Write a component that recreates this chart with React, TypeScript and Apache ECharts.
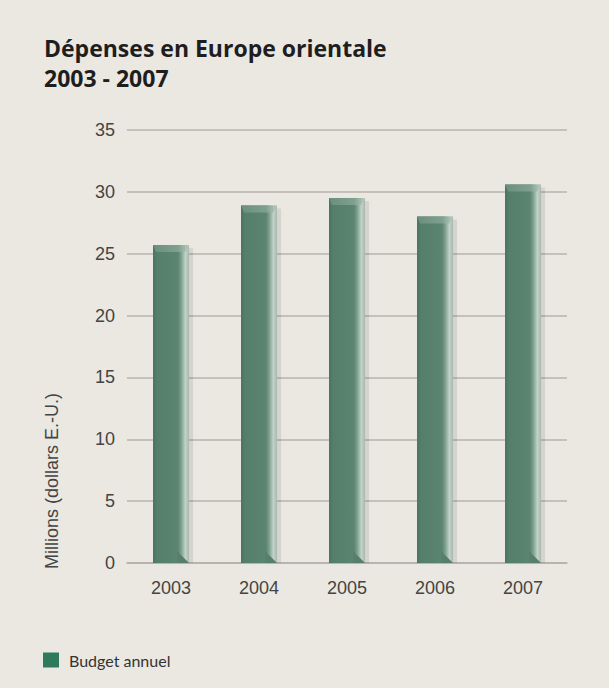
import React, { useEffect, useRef } from "react";
import * as echarts from "echarts";

const categories = ["2003", "2004", "2005", "2006", "2007"];
const budget = [25.7, 28.9, 29.5, 28.0, 30.6];
const yTicks = [0, 5, 10, 15, 20, 25, 30, 35];
const titleLines = ["Dépenses en Europe orientale", "2003 - 2007"];
const seriesName = "Budget annuel";
const yAxisName = "Millions (dollars E.-U.)";

export default function App() {
  const ref = useRef<HTMLDivElement>(null);
  useEffect(() => {
    if (!ref.current) return;
    const chart = echarts.init(ref.current, null, { renderer: "svg" });
    const barGrad = new echarts.graphic.LinearGradient(0, 0, 1, 0, [
      { offset: 0, color: "#4a755f" },
      { offset: 0.12, color: "#567f6b" },
      { offset: 0.7, color: "#5c8571" },
      { offset: 0.8, color: "#86a695" },
      { offset: 0.9, color: "#c3d2c9" },
      { offset: 1, color: "#a6b9ae" },
    ]);
    const topGrad = new echarts.graphic.LinearGradient(0, 0, 1, 0, [
      { offset: 0, color: "#6b8f7d" },
      { offset: 0.7, color: "#7fa08f" },
      { offset: 1, color: "#b9cbc0" },
    ]);
    const renderItem = (params: any, api: any) => {
      const top = api.coord([api.value(0), api.value(1)]);
      const base = api.coord([api.value(0), 0]);
      const bw = 36;
      const l = top[0] - bw / 2;
      const t = top[1];
      const h = base[1] - t;
      return {
        type: "group",
        children: [
          {
            type: "rect",
            shape: { x: l + 4, y: t + 3, width: bw, height: h - 3 },
            style: { fill: "rgba(0,0,0,0.08)", shadowBlur: 6, shadowColor: "rgba(0,0,0,0.2)" },
          },
          {
            type: "rect",
            shape: { x: l, y: t, width: bw, height: h },
            style: { fill: barGrad },
          },
          {
            type: "polygon",
            shape: {
              points: [
                [l, t],
                [l + bw, t],
                [l + bw - 4, t + 7],
                [l + 3, t + 7],
              ],
            },
            style: { fill: topGrad },
          },
          {
            type: "polygon",
            shape: {
              points: [
                [l + bw - 12, base[1] - 12],
                [l + bw, base[1]],
                [l + bw - 12, base[1]],
              ],
            },
            style: { fill: "#587f6c" },
          },
        ],
      };
    };
    chart.setOption({
      animation: false,
      backgroundColor: "transparent",
      title: {
        text: titleLines.join("\n"),
        left: 44,
        top: 33,
        padding: 0,
        textStyle: {
          fontFamily: "Open Sans",
          fontWeight: "bold",
          fontSize: 23,
          lineHeight: 30,
          color: "#1e1e1e",
        },
      },
      grid: { left: 127, right: 42, top: 130, bottom: 125 },
      legend: {
        left: 43,
        top: 652,
        padding: 0,
        itemWidth: 16,
        itemHeight: 15,
        icon: "rect",
        textStyle: {
          fontFamily: "Lato",
          fontSize: 16,
          color: "#333",
          padding: [0, 0, 0, 5],
        },
        data: [{ name: seriesName, itemStyle: { color: "#2e7b5c" } }],
      },
      xAxis: {
        type: "category",
        data: categories,
        axisLine: { lineStyle: { color: "#b3b0ab", width: 1.5 } },
        axisTick: { show: false },
        axisLabel: {
          fontFamily: "Liberation Sans",
          fontSize: 18,
          color: "#444",
          margin: 16,
        },
      },
      yAxis: {
        type: "value",
        min: yTicks[0],
        max: yTicks[yTicks.length - 1],
        interval: 5,
        axisLine: { show: false },
        axisTick: { show: false },
        splitLine: { lineStyle: { color: "#b8b3ad", width: 1.5 } },
        axisLabel: {
          fontFamily: "Liberation Sans",
          fontSize: 18,
          color: "#444",
          margin: 12,
        },
      },
      graphic: [
        {
          type: "text",
          x: 52,
          y: 569,
          rotation: Math.PI / 2,
          style: {
            text: yAxisName,
            fontFamily: "Liberation Sans",
            fontSize: 18,
            fill: "#444",
            align: "left",
            verticalAlign: "middle",
          },
        },
      ],
      series: [
        {
          name: seriesName,
          type: "custom",
          renderItem,
          itemStyle: { color: "#2e7b5c" },
          encode: { x: 0, y: 1 },
          data: budget.map((v, i) => [i, v]),
        },
      ],
    });
    return () => chart.dispose();
  }, []);
  return (
    <div
      style={{
        position: "fixed",
        left: 0,
        top: 0,
        width: 609,
        height: 688,
        background: "#ebe8e2",
      }}
    >
      <div ref={ref} style={{ width: 609, height: 688 }} />
    </div>
  );
}
